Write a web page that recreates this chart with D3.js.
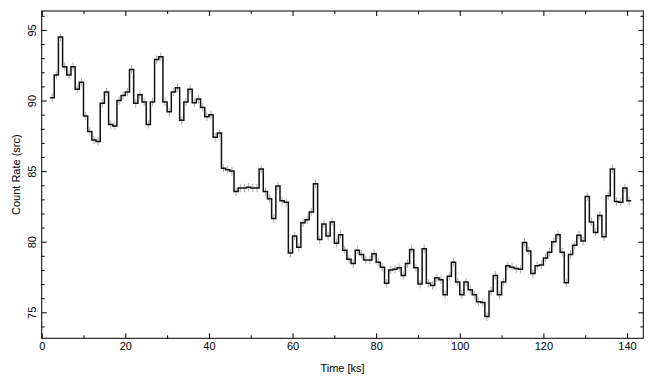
<!DOCTYPE html>
<html>
<head>
<meta charset="utf-8">
<script src="https://cdn.jsdelivr.net/npm/d3@7"></script>
<style>
  body { margin: 0; background: #fff; }
  text { font-family: "Liberation Sans", Arial, sans-serif; }
</style>
</head>
<body>
<svg id="chart" width="655" height="385"></svg>
<script>
// light curve, 1 ks bins starting at t = 2 ks
const binStart = 2;
const binSize = 1;
const rates = [
  90.2, 91.8, 94.5, 92.4, 91.8, 92.4, 90.8, 91.3, 88.9, 87.8,
  87.2, 87.1, 89.8, 90.6, 88.3, 88.2, 90.0, 90.35, 90.6, 92.2,
  89.8, 90.4, 89.9, 88.3, 89.9, 92.9, 93.1, 89.9, 89.2, 90.6,
  90.9, 88.6, 89.9, 90.8, 89.85, 90.1, 89.5, 88.85, 89.0, 87.4,
  87.7, 85.2, 85.1, 85.0, 83.55, 83.8, 83.8, 83.85, 83.8, 83.8,
  85.15, 83.55, 83.05, 81.65, 83.95, 82.9, 82.8, 79.2, 80.4, 79.6,
  81.35, 81.55, 82.1, 84.1, 80.15, 81.25, 80.4, 81.4, 79.9, 80.5,
  79.4, 78.75, 78.45, 79.4, 79.1, 78.7, 78.7, 79.15, 78.55, 78.2,
  77.05, 78.0, 78.05, 78.15, 77.6, 78.45, 79.45, 78.15, 77.0, 79.5,
  77.05, 76.9, 77.45, 77.3, 76.25, 77.55, 78.55, 77.15, 76.25, 77.15,
  76.6, 76.25, 75.75, 75.7, 74.7, 76.5, 77.6, 76.25, 77.15, 78.3,
  78.2, 78.1, 78.05, 79.95, 79.35, 77.75, 78.3, 78.35, 78.85, 79.25,
  80.0, 80.5, 79.25, 77.1, 79.1, 79.75, 80.45, 80.05, 83.2, 81.4,
  80.65, 81.85, 80.35, 83.25, 85.15, 82.85, 82.8, 83.8, 82.9
];
const rateErr = 0.3;

const xMajor = [0, 20, 40, 60, 80, 100, 120, 140];
const xMinor = [10, 30, 50, 70, 90, 110, 130];
const yMajor = [75, 80, 85, 90, 95];
const yMinor = [74, 76, 77, 78, 79, 81, 82, 83, 84, 86, 87, 88, 89, 91, 92, 93, 94, 96];

const data = rates.map((r, i) => ({t: binStart + i * binSize, r: r}));

const svg = d3.select('#chart');
const margin = {top: 11, right: 11.7, bottom: 46.7, left: 41.7};
const width = 655, height = 385;

const x = d3.scaleLinear().domain([0, 143.9]).range([margin.left, width - margin.right]);
const y = d3.scaleLinear().domain([73.16, 96.34]).range([height - margin.bottom, margin.top]);

// error bars
svg.append('g')
  .selectAll('line')
  .data(data)
  .join('line')
    .attr('x1', d => x(d.t + binSize / 2))
    .attr('x2', d => x(d.t + binSize / 2))
    .attr('y1', d => y(d.r - rateErr))
    .attr('y2', d => y(d.r + rateErr))
    .attr('stroke', '#aaa')
    .attr('stroke-width', 1);

// step curve
const pts = data.concat([{t: data[data.length - 1].t + binSize, r: data[data.length - 1].r}]);
svg.append('path')
  .datum(pts)
  .attr('fill', 'none')
  .attr('stroke', '#111')
  .attr('stroke-width', 1.5)
  .attr('d', d3.line().x(d => x(d.t)).y(d => y(d.r)).curve(d3.curveStepAfter));

// axes, ticks inside on all four sides
const bottom = height - margin.bottom, right = width - margin.right;

function addAxis(gen, tr) {
  const g = svg.append('g').attr('transform', tr).call(gen);
  g.select('.domain').remove();
  g.selectAll('line').attr('stroke', '#000');
  g.selectAll('text').attr('font-size', 11).attr('fill', '#000');
  return g;
}

addAxis(d3.axisBottom(x).tickValues(xMajor).tickSize(-5).tickPadding(4), `translate(0,${bottom})`);
addAxis(d3.axisBottom(x).tickValues(xMinor).tickSize(-3).tickFormat(''), `translate(0,${bottom})`);
addAxis(d3.axisTop(x).tickValues(xMajor).tickSize(-5).tickFormat(''), `translate(0,${margin.top})`);
addAxis(d3.axisTop(x).tickValues(xMinor).tickSize(-3).tickFormat(''), `translate(0,${margin.top})`);

const yl = addAxis(d3.axisLeft(y).tickValues(yMajor).tickSize(-5), `translate(${margin.left},0)`);
yl.selectAll('text')
  .attr('transform', 'rotate(-90)')
  .attr('x', 0)
  .attr('y', -6)
  .attr('dy', 0)
  .attr('text-anchor', 'middle');
addAxis(d3.axisLeft(y).tickValues(yMinor).tickSize(-3).tickFormat(''), `translate(${margin.left},0)`);
addAxis(d3.axisRight(y).tickValues(yMajor).tickSize(-5).tickFormat(''), `translate(${right},0)`);
addAxis(d3.axisRight(y).tickValues(yMinor).tickSize(-3).tickFormat(''), `translate(${right},0)`);

// frame
svg.append('rect')
  .attr('x', margin.left)
  .attr('y', margin.top)
  .attr('width', right - margin.left)
  .attr('height', bottom - margin.top)
  .attr('fill', 'none')
  .attr('stroke', '#000')
  .attr('stroke-width', 1);

// axis titles
svg.append('text')
  .attr('x', (margin.left + right) / 2)
  .attr('y', 372)
  .attr('text-anchor', 'middle')
  .attr('font-size', 11)
  .text('Time [ks]');

svg.append('text')
  .attr('transform', `translate(20,${(margin.top + bottom) / 2}) rotate(-90)`)
  .attr('text-anchor', 'middle')
  .attr('font-size', 11)
  .text('Count Rate (src)');
</script>
</body>
</html>
